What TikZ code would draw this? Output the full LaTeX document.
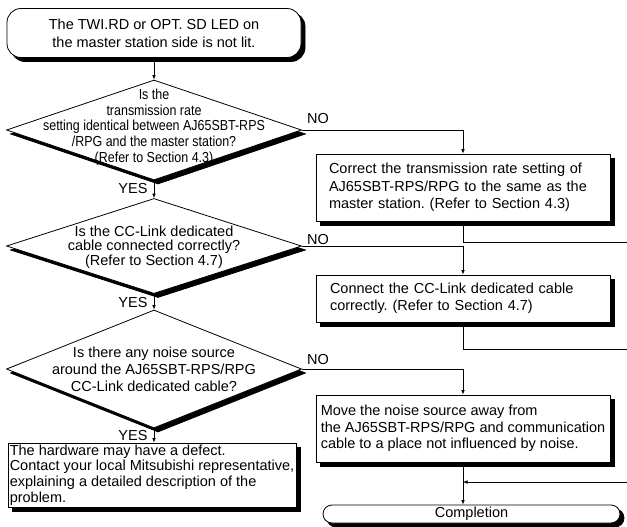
\documentclass[tikz,border=0pt]{standalone}
\usepackage{fontspec}
\setmainfont{Liberation Sans}
\usetikzlibrary{shapes.geometric,arrows.meta}
\begin{document}
\begin{tikzpicture}[x=1pt,y=-1pt,
  every node/.style={font=\fontsize{14.5}{17}\selectfont},
  dia/.style={diamond,draw,fill=white,line width=0.8pt,inner sep=0pt},
  box/.style={rectangle,draw,fill=white,line width=0.8pt,align=left,inner ysep=0pt},
  term/.style={rectangle,draw,fill=white,line width=0.8pt},
  sdia/.style={diamond,draw=black,fill=black,line width=0.8pt,inner sep=0pt},
  sbox/.style={rectangle,draw=black,fill=black,line width=0.8pt,inner sep=0pt},
  conn/.style={line width=0.7pt},
  arr/.style={conn,-{Latex[length=4.5pt,width=3.6pt]}},
  lbl/.style={inner sep=0pt}
]
\useasboundingbox (0,0) rectangle (627,527);

% shadow shapes (black copies, 4 right and 4 down)
\node[sbox, rounded corners=14pt, minimum width=294pt, minimum height=49pt] (sstart) at (158,37) {};
\node[sdia, minimum width=295pt, minimum height=100pt] (sd1) at (158,134) {};
\node[sdia, minimum width=295pt, minimum height=95pt] (sd2) at (158,250) {};
\node[sdia, minimum width=295pt, minimum height=118pt] (sd3) at (158,373) {};
\node[sbox, minimum width=294pt, minimum height=67pt] (sb2) at (467,191.5) {};
\node[sbox, minimum width=294pt, minimum height=47pt] (sb3) at (467,302.5) {};
\node[sbox, minimum width=294pt, minimum height=67pt] (sb4) at (467,432.5) {};
\node[sbox, minimum width=288pt, minimum height=64pt] (shw) at (156,479) {};
\node[sbox, rounded corners=9pt, minimum width=297pt, minimum height=18pt] (scomp) at (475.5,518) {};

% start terminal
\node[term, rounded corners=14pt, minimum width=294pt, minimum height=49pt, align=center,
      font=\fontsize{14.5}{18}\selectfont] (start) at (154,33)
  {The TWI.RD or OPT.\ SD LED on\\the master station side is not lit.};

% decisions
\node[dia, minimum width=295pt, minimum height=100pt] (d1) at (154,130) {};
\begin{scope}[shift={(154,127)}, xscale=0.86]
\node[lbl, transform shape, align=center, font=\fontsize{14.5}{15.7}\selectfont] (t1) at (0,0)
  {Is the\\transmission rate\\setting identical between AJ65SBT-RPS\\/RPG and the master station?\\(Refer to Section 4.3)};
\end{scope}

\node[dia, minimum width=295pt, minimum height=95pt] (d2) at (154,246) {};
\node[lbl, align=center, font=\fontsize{14.5}{14.7}\selectfont] (t2) at (154,247)
  {Is the CC-Link dedicated\\cable connected correctly?\\(Refer to Section 4.7)};

\node[dia, minimum width=295pt, minimum height=118pt] (d3) at (154,369) {};
\node[lbl, align=center, font=\fontsize{14.5}{17}\selectfont] (t3) at (154,369.5)
  {Is there any noise source\\around the AJ65SBT-RPS/RPG\\CC-Link dedicated cable?};

% action boxes
\node[box, minimum width=294pt, minimum height=67pt, inner xsep=13pt, text width=268pt,
      font=\fontsize{14.5}{17.5}\selectfont] (b2) at (463,187.5)
  {Correct the transmission rate setting of\\AJ65SBT-RPS/RPG to the same as the\\master station.\ (Refer to Section 4.3)};

\node[box, minimum width=294pt, minimum height=47pt, inner xsep=14pt, text width=266pt,
      font=\fontsize{14.5}{17}\selectfont] (b3) at (463,298.5)
  {Connect the CC-Link dedicated cable\\correctly.\ (Refer to Section 4.7)};

\node[box, minimum width=294pt, minimum height=67pt, inner xsep=0pt,
      font=\fontsize{14.5}{16.5}\selectfont] (b4) at (463,428.5)
  {Move the noise source away from\\the AJ65SBT-RPS/RPG and communication\\cable to a place not influenced by noise.};

\node[box, minimum width=288pt, minimum height=64pt, inner xsep=0pt,
      font=\fontsize{14.5}{15.7}\selectfont] (hw) at (152,475)
  {The hardware may have a defect.\\Contact your local Mitsubishi representative,\\explaining a detailed description of the\\problem.};

% completion terminal
\node[term, rounded corners=9pt, minimum width=297pt, minimum height=18pt, inner sep=0pt] (comp) at (471.5,514) {Completion};

% free ends at the right edge
\coordinate (r1) at (627,242);
\coordinate (r2) at (627,349);
\coordinate (r3) at (627,482);

% connectors
\draw[arr] (start.south) -- (d1.north);
\draw[arr] (d1.south) -- (d2.north);
\draw[arr] (d2.south) -- (d3.north);
\draw[arr] (d3.south) -- (d3.south |- hw.north);

\draw[arr] (d1.east) -| (b2.north);
\draw[arr] (d2.east) -| (b3.north);
\draw[arr] (d3.east) -| (b4.north);

\draw[conn] (b2.south) |- (r1);
\draw[conn] (b3.south) |- (r2);
\draw[arr] (b4.south) -- (b4.south |- comp.north);
\draw[arr] (r3) -- (r3 -| b4.south);

% labels
\node[lbl] (yes1) at (133,189) {YES};
\node[lbl] (yes2) at (133,303) {YES};
\node[lbl] (yes3) at (133,436) {YES};
\node[lbl] (no1) at (318,119) {NO};
\node[lbl] (no2) at (318,240) {NO};
\node[lbl] (no3) at (318,360) {NO};
\end{tikzpicture}
\end{document}
